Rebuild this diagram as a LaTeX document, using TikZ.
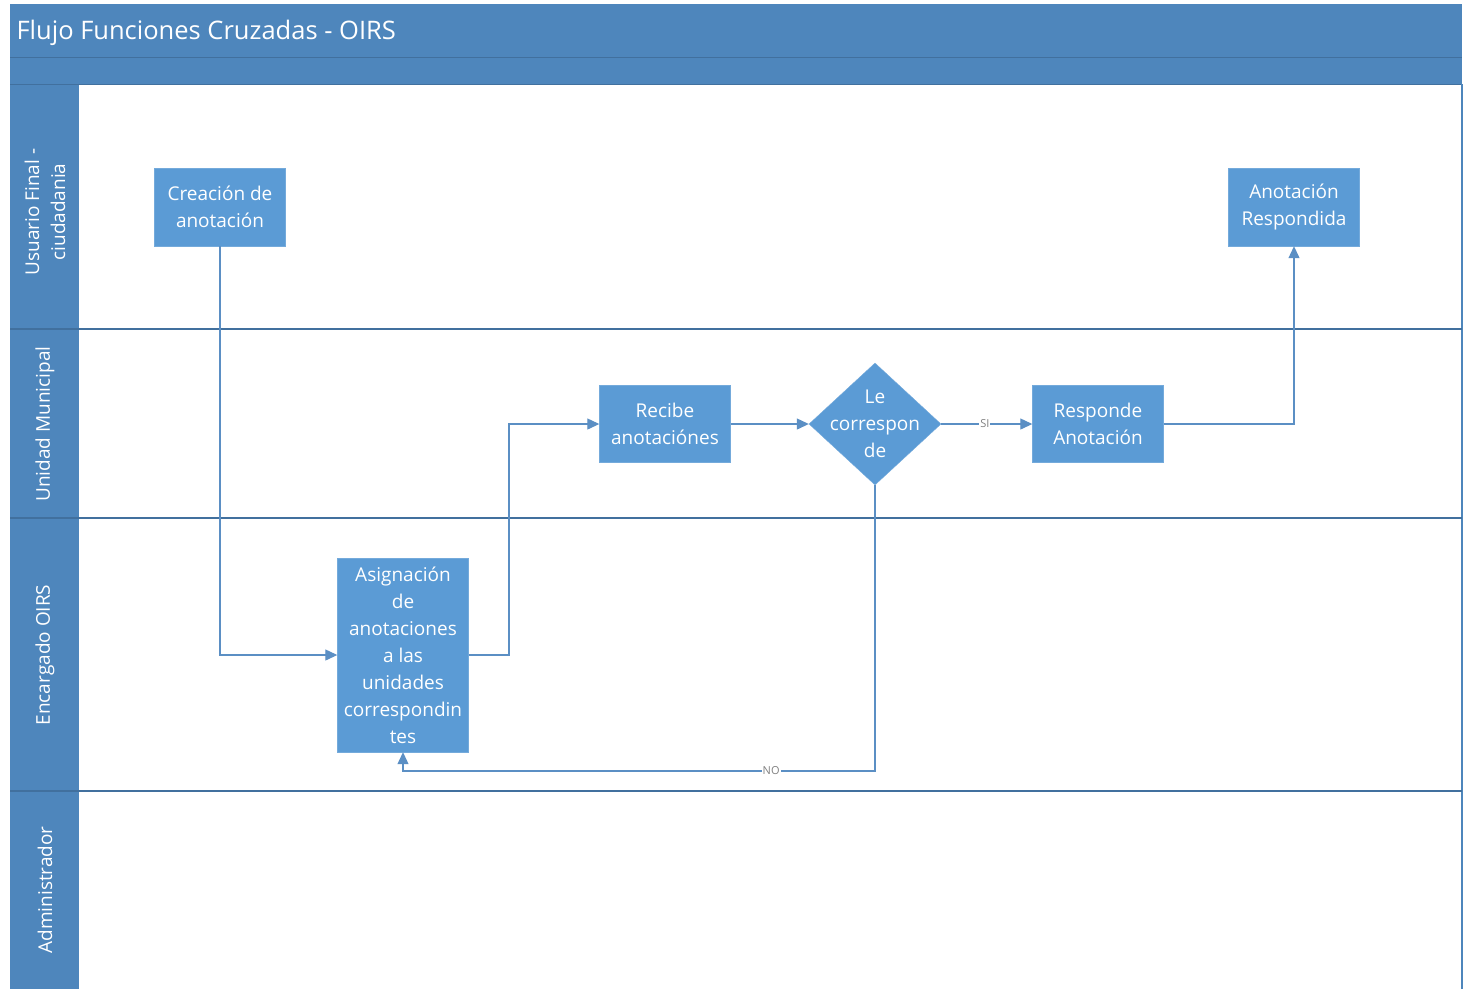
\documentclass[tikz,border=0pt]{standalone}
\usepackage{fontspec}
\setmainfont{Open Sans}
\usetikzlibrary{shapes.geometric,arrows.meta}
\definecolor{hdr}{HTML}{4E86BC}
\definecolor{hdrline}{HTML}{41709E}
\definecolor{boxfill}{HTML}{5B9BD5}
\definecolor{flow}{HTML}{5B8FC4}
\tikzset{
  proc/.style={draw=boxfill!85!white, fill=boxfill, text=white, minimum width=131pt,
    align=center, font=\fontsize{19}{27}\selectfont, inner sep=2pt},
  decide/.style={diamond, draw=boxfill!85!white, fill=boxfill, minimum width=132pt,
    minimum height=122pt, inner sep=0pt},
  decidetext/.style={text=white, align=center, font=\fontsize{19}{27}\selectfont},
  lane/.style={text=white, rotate=90, align=center, font=\fontsize{19}{26}\selectfont},
  flowline/.style={draw=flow, line width=1.2pt},
  arr/.style={flowline, -{Triangle[length=12pt,width=11pt]}},
  tag/.style={fill=white, text=gray, inner sep=1pt, font=\fontsize{11}{12}\selectfont}
}
\begin{document}
\begin{tikzpicture}[x=1pt,y=-1pt]
\useasboundingbox (0,0) rectangle (1464,989);
% pool and header
\fill[white] (0,0) rectangle (1464,989);
\fill[hdr] (10,4) rectangle (1462,84);
\fill[hdr] (10,84) rectangle (79,989);
\draw[hdrline, line width=1pt] (10,57) -- (1462,57);
\draw[hdrline, line width=1pt] (10,84) -- (1462,84);
\draw[hdr, line width=1.2pt] (1462,84) -- (1462,989);
\node[anchor=west, text=white, font=\fontsize{25.5}{30}\selectfont] (title) at (13,33) {Flujo Funciones Cruzadas - OIRS};
% lanes
\draw[hdrline, line width=1.2pt] (10,329) -- (1462,329);
\draw[hdrline, line width=1.2pt] (10,518) -- (1462,518);
\draw[hdrline, line width=1.2pt] (10,791) -- (1462,791);
\node[lane] (l1) at (45,212) {Usuario Final -\\ciudadania};
\node[lane] (l2) at (45,424) {Unidad Municipal};
\node[lane] (l3) at (45,655) {Encargado OIRS};
\node[lane] (l4) at (45,890) {Administrador};
% steps
\node[proc, minimum height=78pt] (crea) at (220,207) {Creación de\\anotación};
\node[proc, minimum height=78pt] (resp) at (1294,207) {Anotación\\Respondida};
\node[proc, minimum height=194pt] (asig) at (403,655) {Asignación\\de\\anotaciones\\a las\\unidades\\correspondin\\tes};
\node[proc, minimum height=77pt] (recibe) at (665,424) {Recibe\\anotaciónes};
\node[decide] (corr) at (875,424) {};
\node[decidetext] (corrtext) at (corr.center) {Le\\correspon\\de};
\node[proc, minimum height=77pt] (responde) at (1098,424) {Responde\\Anotación};
% connectors
\draw[arr] (crea.south) |- (asig.west);
\draw[arr] (asig.east) -- (509,655) |- (recibe.west);
\draw[arr] (recibe.east) -- (corr.west);
\draw[arr] (corr.east) -- node[tag, pos=0.48] {SI} (responde.west);
\draw[arr] (responde.east) -| (resp.south);
\draw[arr] (corr.south) |- node[tag, pos=0.61] {NO} (403,771) -- (asig.south);
\end{tikzpicture}
\end{document}
